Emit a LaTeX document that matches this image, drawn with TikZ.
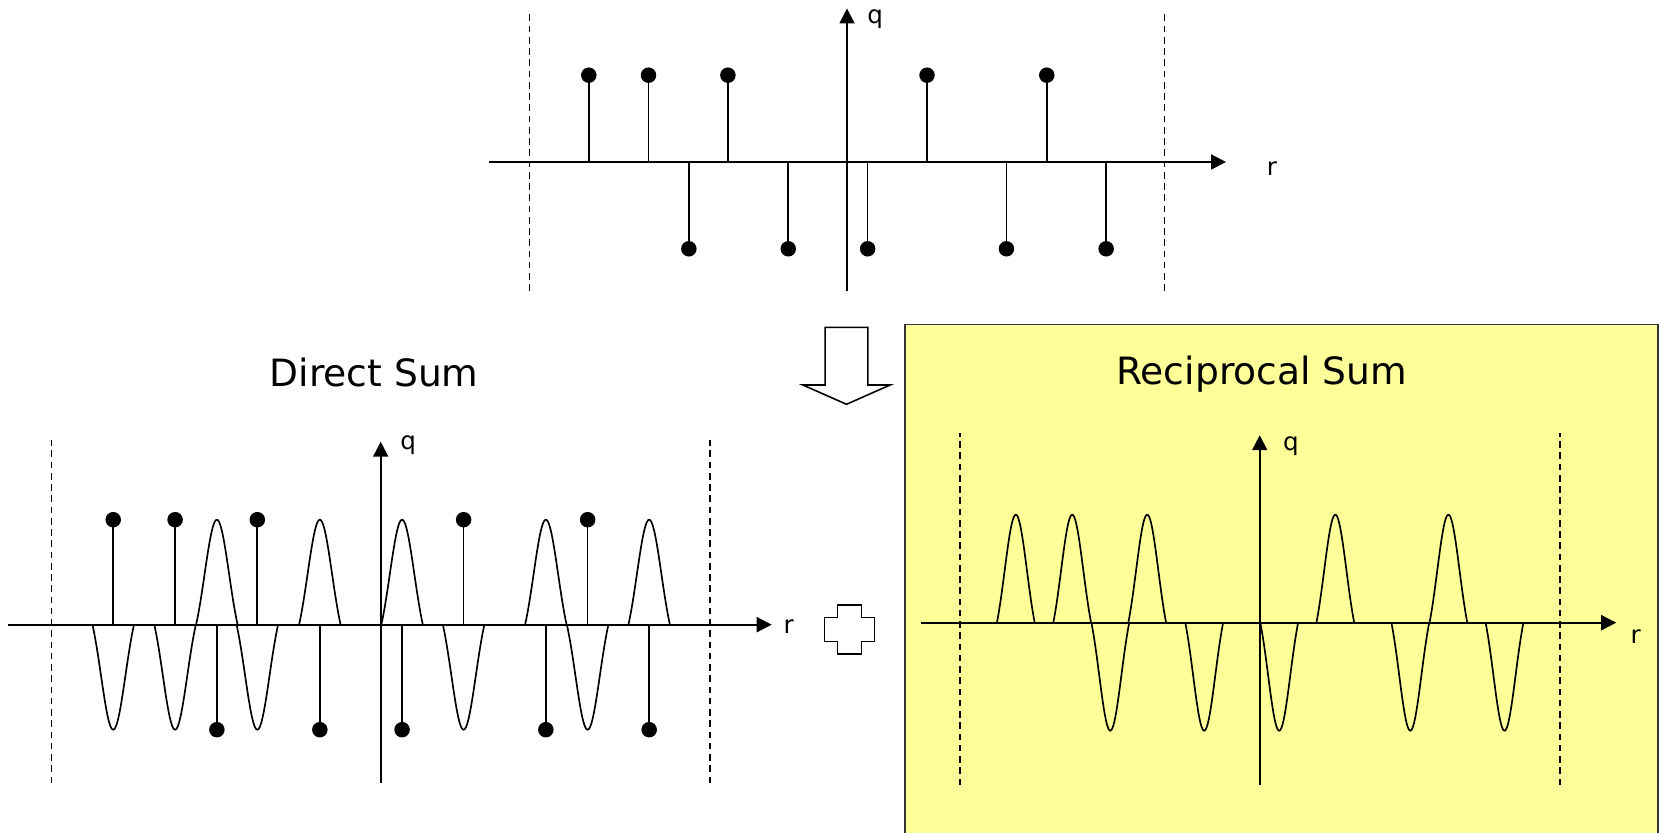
\documentclass[tikz,border=0pt]{standalone}
\usepackage{fontspec}
\setmainfont{DejaVu Sans}
\usetikzlibrary{arrows.meta}
\definecolor{recipfill}{HTML}{FFFF99}

% positions of the charges in one cell (fraction of half cell) / sign
\def\charges{-0.813/1, -0.625/1, -0.375/1, 0.252/1, 0.629/1,
  -0.498/-1, -0.185/-1, 0.065/-1, 0.502/-1, 0.816/-1}

\begin{document}
\begin{tikzpicture}[>={Triangle[length=0.3cm,width=0.3cm]},
    axisline/.style={line width=1.1pt},
    cellwall/.style={line width=0.9pt, dash pattern=on 3.8pt off 2.6pt},
    stem/.style={line width=0.95pt},
    bump/.style={line width=0.95pt},
    axlabel/.style={anchor=base west, inner sep=0pt, font=\fontsize{14}{16}\selectfont},
    sumtitle/.style={anchor=base, inner sep=0pt, font=\fontsize{21.4}{25}\selectfont},
    hollow/.style={draw, line width=0.9pt, fill=white, line join=miter}]
  \useasboundingbox (0,0) rectangle (33.2,16.66);
  \clip (0,0) rectangle (33.2,16.66);

  % reciprocal part sits on a yellow panel
  \draw[line width=1.1pt, draw=black!80, fill=recipfill] (18.1,-1) rectangle (33.155,10.17);

  % point charges
  \begin{scope}[shift={(16.94,13.42)}]
    \def\cell{6.352} \def\amp{1.736}
    \draw[cellwall] (-\cell,-2.58) -- (-\cell,3.03);
    \draw[cellwall] (\cell,-2.58) -- (\cell,3.03);
    \draw[axisline,->] (-7.16,0) -- (7.58,0);
    \draw[axisline,->] (0,-2.58) -- (0,3.07);
    \foreach \p/\s in \charges {
      \draw[stem] (\p*\cell,0) -- (\p*\cell,\s*\amp);
      \fill (\p*\cell,\s*\amp) circle (0.155);
    }
    \node[axlabel] (topq) at (0.40,2.76) {q};
    \node[axlabel] (topr) at (8.39,-0.28) {r};
  \end{scope}

  % split into two sums
  \draw[hollow, shift={(16.93,0)}] (-0.427,10.114) -- (0.427,10.114) -- (0.427,8.96)
    -- (0.873,8.96) -- (0,8.574) -- (-0.873,8.96) -- (-0.427,8.96) -- cycle;
  \draw[hollow, shift={(16.986,4.07)}] (-0.24,0.49) -- (0.24,0.49) -- (0.24,0.24)
    -- (0.5,0.24) -- (0.5,-0.24) -- (0.24,-0.24) -- (0.24,-0.49) -- (-0.24,-0.49)
    -- (-0.24,-0.24) -- (-0.5,-0.24) -- (-0.5,0.24) -- (-0.24,0.24) -- cycle;

  \node[sumtitle] (direct) at (7.484,8.926) {Direct Sum};
  \node[sumtitle] (recip) at (25.234,8.96) {Reciprocal Sum};

  % direct sum: charges plus screening gaussians
  \begin{scope}[shift={(7.614,4.166)}]
    \def\cell{6.58} \def\amp{2.1} \def\wid{0.415}
    \draw[cellwall] (-\cell,-3.17) -- (-\cell,3.69);
    \draw[cellwall] (\cell,-3.17) -- (\cell,3.69);
    \draw[axisline,->] (-7.45,0) -- (7.82,0);
    \draw[axisline,->] (0,-3.17) -- (0,3.66);
    \foreach \p/\s in \charges {
      \draw[stem] (\p*\cell,0) -- (\p*\cell,\s*\amp);
      \fill (\p*\cell,\s*\amp) circle (0.155);
      \draw[bump] plot[domain=-1:1, samples=41]
        ({\p*\cell+\wid*\x}, {(-1)*(\s)*\amp*(exp(-1.445*(\x)*(\x))-0.2357)/0.7643});
    }
    \node[axlabel] (dirq) at (0.386,3.51) {q};
    \node[axlabel] (dirr) at (8.05,-0.17) {r};
  \end{scope}

  % reciprocal sum: compensating gaussians
  \begin{scope}[shift={(25.194,4.206)}]
    \def\cell{6.0} \def\amp{2.16} \def\wid{0.378}
    \draw[cellwall] (-\cell,-3.25) -- (-\cell,3.79);
    \draw[cellwall] (\cell,-3.25) -- (\cell,3.79);
    \draw[axisline,->] (-6.78,0) -- (7.13,0);
    \draw[axisline,->] (0,-3.25) -- (0,3.75);
    \foreach \p/\s in \charges {
      \draw[bump] plot[domain=-1:1, samples=41]
        ({\p*\cell+\wid*\x}, {(\s)*\amp*(exp(-1.445*(\x)*(\x))-0.2357)/0.7643});
    }
    \node[axlabel] (recq) at (0.46,3.44) {q};
    \node[axlabel] (recr) at (7.41,-0.41) {r};
  \end{scope}
\end{tikzpicture}
\end{document}
